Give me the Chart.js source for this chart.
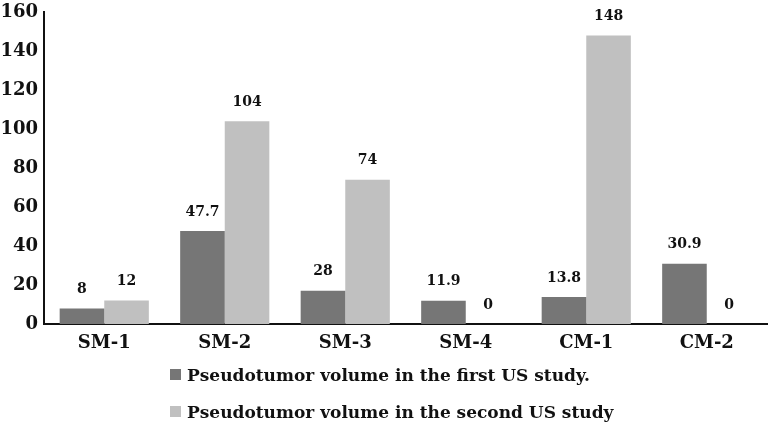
<!DOCTYPE html>
<html>
<head>
<meta charset="utf-8">
<script src="https://cdn.jsdelivr.net/npm/chart.js@4.4.0/dist/chart.umd.min.js"></script>
<style>
  html, body { margin: 0; padding: 0; background: #fff; }
  #wrap { position: relative; width: 774px; height: 425px; }
  #legend { position: absolute; left: 170px; top: 356px; font-family: "DejaVu Serif", serif; font-weight: bold; font-size: 17px; color: #111; }
  .item { display: flex; align-items: center; height: 37px; }
  .box { width: 11px; height: 11px; margin-right: 6px; }
</style>
</head>
<body>
<div id="wrap">
  <canvas id="c" width="774" height="425"></canvas>
  <div id="legend"></div>
</div>
<script>
const categories = ["SM-1", "SM-2", "SM-3", "SM-4", "CM-1", "CM-2"];
const firstStudy = [8, 47.7, 17, 11.9, 13.8, 30.9];
const firstStudyLabels = ["8", "47.7", "28", "11.9", "13.8", "30.9"];
const secondStudy = [12, 104, 74, 0, 148, 0];
const secondStudyLabels = ["12", "104", "74", "0", "148", "0"];
const seriesNames = ["Pseudotumor volume in the first US study.", "Pseudotumor volume in the second US study"];
const yTicks = [0, 20, 40, 60, 80, 100, 120, 140, 160];

const FONT = '"DejaVu Serif", serif';

const valueLabels = {
  id: 'valueLabels',
  afterDatasetsDraw(chart) {
    const ctx = chart.ctx;
    ctx.save();
    ctx.font = 'bold 14px ' + FONT;
    ctx.fillStyle = '#111';
    ctx.textAlign = 'center';
    ctx.textBaseline = 'middle';
    chart.data.datasets.forEach((ds, i) => {
      const meta = chart.getDatasetMeta(i);
      meta.data.forEach((bar, j) => {
        ctx.fillText(ds.valueLabels[j], bar.x, bar.y - 19);
      });
    });
    ctx.restore();
  }
};

const chart = new Chart(document.getElementById('c'), {
  type: 'bar',
  data: {
    labels: categories,
    datasets: [
      { label: seriesNames[0], data: firstStudy, valueLabels: firstStudyLabels, backgroundColor: '#767676' },
      { label: seriesNames[1], data: secondStudy, valueLabels: secondStudyLabels, backgroundColor: '#c0c0c0' }
    ]
  },
  options: {
    responsive: false,
    animation: false,
    devicePixelRatio: 1,
    layout: { padding: { top: 12, right: 7, left: 0, bottom: 0 } },
    plugins: { legend: { display: false }, tooltip: { enabled: false } },
    datasets: { bar: { categoryPercentage: 0.74, barPercentage: 1.0 } },
    scales: {
      x: {
        grid: { display: false, drawTicks: false },
        border: { display: true, color: '#111', width: 2 },
        ticks: { font: { family: FONT, size: 18, weight: 'bold' }, color: '#111', padding: 9 },
        afterFit(scale) { scale.height = 101; scale.paddingLeft = 0; scale.paddingRight = 0; }
      },
      y: {
        min: 0, max: 160,
        afterBuildTicks(scale) { scale.ticks = yTicks.map(v => ({ value: v })); },
        grid: { display: false, drawTicks: false },
        border: { display: true, color: '#111', width: 2 },
        ticks: { font: { family: FONT, size: 18, weight: 'bold' }, color: '#111', padding: 6 },
        afterFit(scale) { scale.width = 44; scale.paddingTop = 0; scale.paddingBottom = 0; }
      }
    }
  },
  plugins: [valueLabels]
});

const legend = document.getElementById('legend');
chart.data.datasets.forEach(ds => {
  const item = document.createElement('div');
  item.className = 'item';
  const box = document.createElement('span');
  box.className = 'box';
  box.style.background = ds.backgroundColor;
  const txt = document.createElement('span');
  txt.textContent = ds.label;
  item.appendChild(box);
  item.appendChild(txt);
  legend.appendChild(item);
});
</script>
</body>
</html>
